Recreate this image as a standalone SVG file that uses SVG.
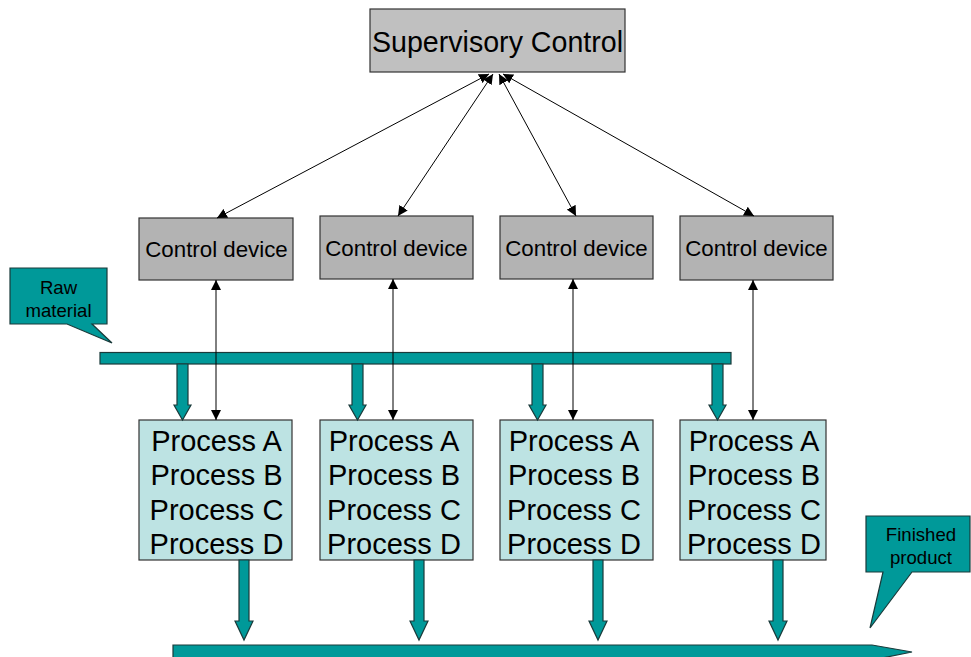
<svg xmlns="http://www.w3.org/2000/svg" width="971" height="657" viewBox="0 0 971 657">
<defs>
<style>
.sup{fill:#c0c0c0;stroke:#333;stroke-width:1.2}
.dev{fill:#b3b3b3;stroke:#333;stroke-width:1.2}
.proc{fill:#bde3e3;stroke:#333;stroke-width:1.2}
.teal{fill:#009999;stroke:#1a3a3a;stroke-width:1.2}
.t{font-family:"Liberation Sans",Arial,sans-serif;fill:#000;text-anchor:middle}
.p{font-size:29px}
.d{font-size:22.3px}
.c{font-size:18.6px}
.ln{stroke:#000;stroke-width:1;fill:none;marker-start:url(#ah);marker-end:url(#ah)}
</style>
<marker id="ah" viewBox="0 0 10 10" refX="10" refY="5" markerWidth="10" markerHeight="10" markerUnits="userSpaceOnUse" orient="auto-start-reverse">
<path d="M0,0 L10,5 L0,10 Z" fill="#000"/>
</marker>
</defs>
<g id="supervisory">
<rect class="sup" x="370" y="9" width="255" height="63"/>
<text class="t" x="497.5" y="52" font-size="28.6">Supervisory Control</text>
</g>
<g id="device1"><rect class="dev" x="139" y="218" width="154" height="62"/><text class="t d" x="216.5" y="257">Control device</text></g>
<g id="device2"><rect class="dev" x="320" y="216" width="153" height="63"/><text class="t d" x="396.5" y="256">Control device</text></g>
<g id="device3"><rect class="dev" x="500" y="216" width="153" height="63"/><text class="t d" x="576.5" y="256">Control device</text></g>
<g id="device4"><rect class="dev" x="680" y="216" width="153" height="64"/><text class="t d" x="756.5" y="256">Control device</text></g>
<g id="raw-material">
<path class="teal" d="M10,268 H107 V324 H92 L112,343 L67,324 H10 Z"/>
<text class="t c" x="58.5" y="294">Raw</text>
<text class="t c" x="58.5" y="317">material</text>
</g>
<g id="raw-bar"><rect class="teal" x="100" y="352.5" width="631" height="11.5"/></g>
<g id="process1"><rect class="proc" x="139" y="420" width="153" height="140"/>
<text class="t p" x="216.5" y="450.5">Process A</text><text class="t p" x="216.5" y="485">Process B</text><text class="t p" x="216.5" y="519.5">Process C</text><text class="t p" x="216.5" y="554">Process D</text></g>
<g id="process2"><rect class="proc" x="320" y="420" width="153" height="140"/>
<text class="t p" x="394" y="450.5">Process A</text><text class="t p" x="394" y="485">Process B</text><text class="t p" x="394" y="519.5">Process C</text><text class="t p" x="394" y="554">Process D</text></g>
<g id="process3"><rect class="proc" x="500" y="420" width="153" height="140"/>
<text class="t p" x="574" y="450.5">Process A</text><text class="t p" x="574" y="485">Process B</text><text class="t p" x="574" y="519.5">Process C</text><text class="t p" x="574" y="554">Process D</text></g>
<g id="process4"><rect class="proc" x="680" y="420" width="146" height="140"/>
<text class="t p" x="754" y="450.5">Process A</text><text class="t p" x="754" y="485">Process B</text><text class="t p" x="754" y="519.5">Process C</text><text class="t p" x="754" y="554">Process D</text></g>
<g id="finished-product">
<path class="teal" d="M866,516 H970 V572 H912 L870,628 L883,572 H866 Z"/>
<text class="t c" x="921" y="541">Finished</text>
<text class="t c" x="921" y="564">product</text>
</g>
<g id="product-bar"><path class="teal" d="M173,645 H872 L912,652 L872,660 H173 Z"/></g>
<g id="connectors">
<line class="ln" x1="489" y1="74" x2="217" y2="218"/>
<line class="ln" x1="493" y1="74" x2="398" y2="216"/>
<line class="ln" x1="499" y1="74" x2="576" y2="216"/>
<line class="ln" x1="503" y1="74" x2="754" y2="216"/>
<line class="ln" x1="216" y1="280" x2="216" y2="420"/>
<line class="ln" x1="393" y1="279" x2="393" y2="420"/>
<line class="ln" x1="573" y1="279" x2="573" y2="420"/>
<line class="ln" x1="753" y1="280" x2="753" y2="420"/>
<path class="teal" d="M177,364 H188 V405 H191 L182.5,420 L174,405 H177 Z"/>
<path class="teal" d="M352,364 H363 V405 H366 L357.5,420 L349,405 H352 Z"/>
<path class="teal" d="M532,364 H543 V405 H546 L537.5,420 L529,405 H532 Z"/>
<path class="teal" d="M712,364 H723 V405 H726 L717.5,420 L709,405 H712 Z"/>
<path class="teal" d="M239,560 H249 V621 H253 L244,640 L235,621 H239 Z"/>
<path class="teal" d="M414,560 H424 V621 H428 L419,640 L410,621 H414 Z"/>
<path class="teal" d="M593,560 H603 V621 H607 L598,640 L589,621 H593 Z"/>
<path class="teal" d="M773,560 H783 V621 H787 L778,640 L769,621 H773 Z"/>
</g>
</svg>
